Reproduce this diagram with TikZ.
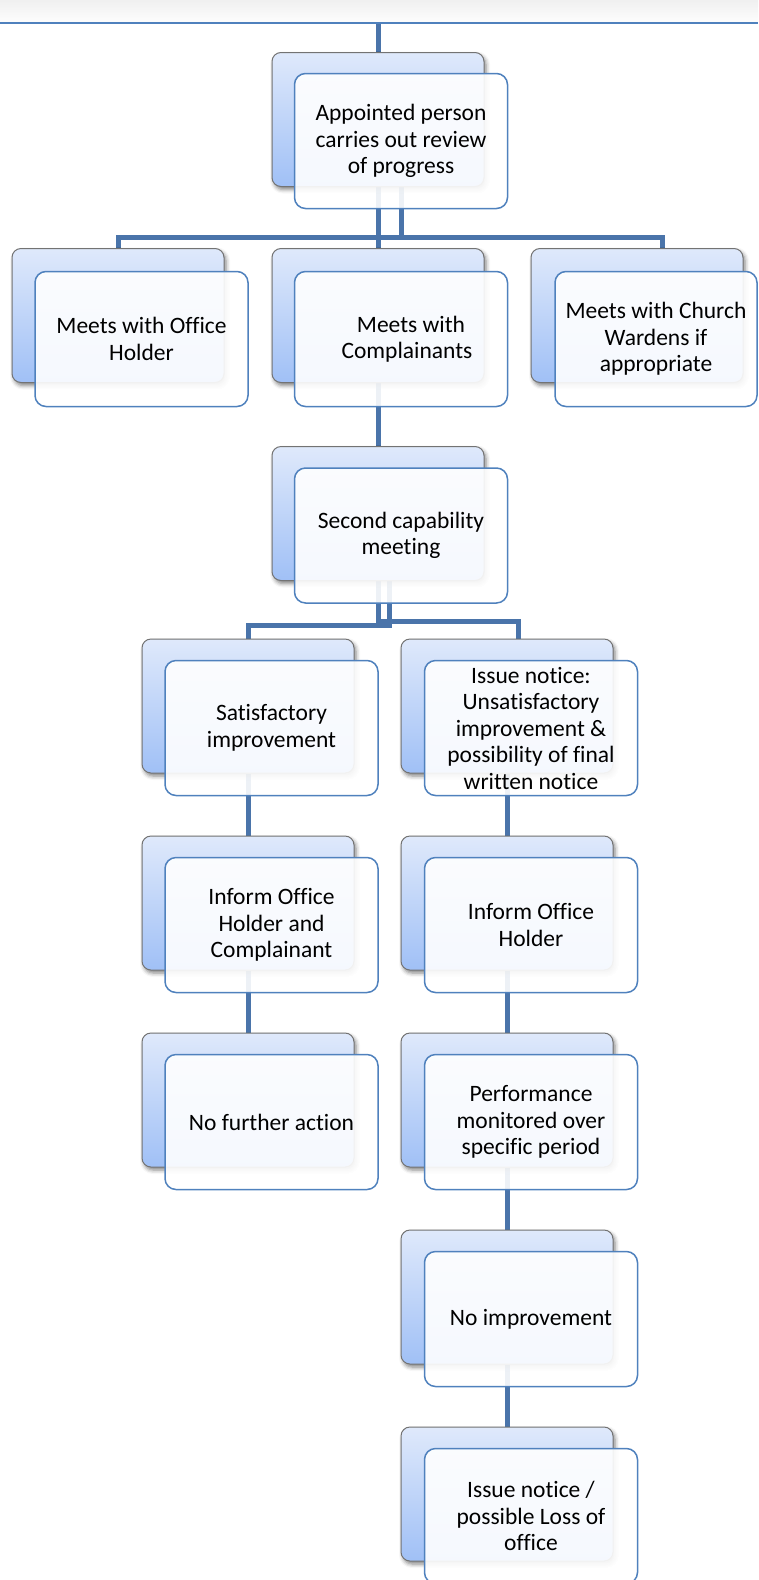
\documentclass[tikz,border=0pt]{standalone}
\usepackage{fontspec}
\setmainfont{Carlito}[Ligatures=NoCommon]
\usetikzlibrary{shadows.blur}

\definecolor{conn}{RGB}{74,116,170}
\definecolor{frame}{RGB}{79,129,189}
\definecolor{shadetop}{RGB}{223,233,251}
\definecolor{shadebot}{RGB}{160,192,246}
\definecolor{rim}{RGB}{115,115,115}

\pgfdeclarelayer{bg}
\pgfsetlayers{bg,main}

\tikzset{
  backbox/.style={rounded corners=9pt, draw=rim, line width=1pt,
    top color=shadetop, bottom color=shadebot,
    minimum width=212pt, minimum height=134pt, inner sep=0pt,
    blur shadow={shadow xshift=2pt, shadow yshift=-3pt,
      shadow blur radius=4pt, shadow opacity=50}},
  frontbox/.style={rounded corners=11pt, draw=frame, line width=1.5pt,
    fill=white, fill opacity=0.9, text opacity=1,
    minimum width=213pt, minimum height=135pt, inner sep=0pt,
    align=center, font=\fontsize{23.5}{26.5}\selectfont},
  link/.style={draw=conn, line width=5pt},
}

\begin{document}
\begin{tikzpicture}[x=1pt,y=-1pt]
\useasboundingbox (0,0) rectangle (758,1580);

% header band and rule
\shade[top color=black!6, bottom color=black!1] (0,0) rectangle (758,21);
\draw[frame, line width=2pt] (0,22.5) -- (758,22.5);

% back cards
\node[backbox] (b1)  at (378,119.5) {};
\node[backbox] (b2a) at (118,315.5) {};
\node[backbox] (b2b) at (378,315.5) {};
\node[backbox] (b2c) at (637,315.5) {};
\node[backbox] (b3)  at (378,513.5) {};
\node[backbox] (bl1) at (248,706) {};
\node[backbox] (bl2) at (248,903) {};
\node[backbox] (bl3) at (248,1100) {};
\node[backbox] (br1) at (507,706) {};
\node[backbox] (br2) at (507,903) {};
\node[backbox] (br3) at (507,1100) {};
\node[backbox] (br4) at (507,1297) {};
\node[backbox] (br5) at (507,1494) {};

% front cards with the texts
\node[frontbox] (f1)  at (401,141) {Appointed person\\carries out review\\of progress};
\node[frontbox] (f2a) at (141.5,339) {Meets with Office\\Holder};
\node[frontbox] (f2b) at (401,339) {\hspace*{20pt}Meets with\\\hspace*{12pt}Complainants};
\node[frontbox, minimum width=202pt] (f2c) at (656,339) {Meets with Church\\Wardens if\\appropriate};
\node[frontbox] (f3)  at (401,535.5) {Second capability\\meeting};
\node[frontbox] (fl1) at (271.5,728) {Satisfactory\\improvement};
\node[frontbox] (fl2) at (271.5,925) {Inform Office\\Holder and\\Complainant};
\node[frontbox] (fl3) at (271.5,1122) {No further action};
\node[frontbox] (fr1) at (531,728) {Issue notice:\\Unsatisfactory\\improvement \&\\possibility of final\\written notice};
\node[frontbox] (fr2) at (531,925) {Inform Office\\Holder};
\node[frontbox] (fr3) at (531,1122) {Performance\\monitored over\\specific period};
\node[frontbox] (fr4) at (531,1319) {No improvement};
\node[frontbox] (fr5) at (531,1516) {Issue notice /\\possible Loss of\\office};

% connectors, kept beneath the cards
\begin{pgfonlayer}{bg}
  \coordinate (feedtop) at (378,0);
  \coordinate (feed) at (378,22.5);
  \draw[link, draw=conn!12] (feedtop) -- (feed);
  \draw[link] (feed) -- (b1.north);

  % first split
  \coordinate (bar2) at (378,237);
  \coordinate (drop2c) at (662,237);
  \draw[link] (b1.south) -- (b2b.north);
  \draw[link] (b1.south -| f1.center) -- (f1.center |- bar2);
  \draw[link] (b2a.north) -- (b2a.north |- bar2) -- (drop2c) -- (drop2c |- b2c.north);

  % middle card down to the meeting
  \draw[link] (b2b.south) -- (b3.north);

  % second split
  \coordinate (barR) at (378,621);
  \coordinate (dropR) at (518,621);
  \coordinate (barL) at (389,625);
  \draw[link] (b3.south) -- (barR) -- (dropR) -- (dropR |- br1.north);
  \draw[link] (b3.south -| barL) -- (barL) -- (barL -| bl1.north) -- (bl1.north);

  % columns
  \draw[link] (bl1.south) -- (bl2.north);
  \draw[link] (bl2.south) -- (bl3.north);
  \draw[link] (br1.south) -- (br2.north);
  \draw[link] (br2.south) -- (br3.north);
  \draw[link] (br3.south) -- (br4.north);
  \draw[link] (br4.south) -- (br5.north);
\end{pgfonlayer}
\end{tikzpicture}
\end{document}
